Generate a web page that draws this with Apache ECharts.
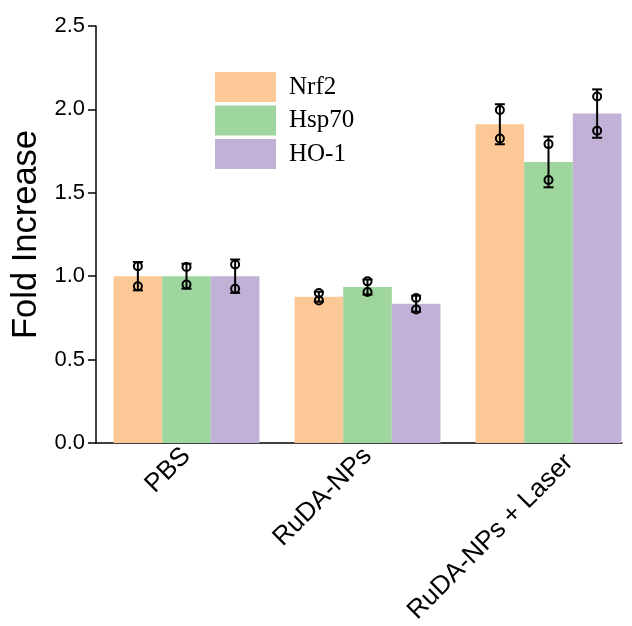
<!DOCTYPE html>
<html>
<head>
<meta charset="utf-8">
<script src="https://cdn.jsdelivr.net/npm/echarts@6/dist/echarts.min.js"></script>
<style>html,body{margin:0;padding:0;background:#fff}#c{width:632px;height:626px}</style>
</head>
<body>
<div id="c"></div>
<script>
var categories = ['PBS', 'RuDA-NPs', 'RuDA-NPs + Laser'];
var seriesNames = ['Nrf2', 'Hsp70', 'HO-1'];
var nrf2Mean = [1.0, 0.877, 1.911];
var hsp70Mean = [1.0, 0.935, 1.685];
var ho1Mean = [1.0, 0.835, 1.975];
var nrf2Err = [0.085, 0.03, 0.12];
var hsp70Err = [0.075, 0.045, 0.152];
var ho1Err = [0.10, 0.048, 0.145];
var nrf2Points = [[1.06, 0.94], [0.899, 0.855], [1.996, 1.826]];
var hsp70Points = [[1.055, 0.95], [0.969, 0.905], [1.792, 1.577]];
var ho1Points = [[1.07, 0.925], [0.869, 0.801], [2.077, 1.872]];
var yTicks = [0, 0.5, 1.0, 1.5, 2.0, 2.5];
var colors = ['#FCC896', '#9FD69D', '#C1B1D6'];

var means = [nrf2Mean, hsp70Mean, ho1Mean];
var errs = [nrf2Err, hsp70Err, ho1Err];
var pts = [nrf2Points, hsp70Points, ho1Points];
var CAT_GAP = 0.194;

function makeRender(k) {
  return function (params, api) {
    var idx = api.value(0), m = api.value(1), e = api.value(2), p1 = api.value(3), p2 = api.value(4);
    var band = api.size([1, 0])[0];
    var bw = band * (1 - CAT_GAP) / 3;
    var x = api.coord([idx, m])[0] + (k - 1) * bw;
    var yTop = api.coord([idx, m + e])[1];
    var yBot = api.coord([idx, m - e])[1];
    var y1 = api.coord([idx, p1])[1];
    var y2 = api.coord([idx, p2])[1];
    var st = {stroke: '#000', lineWidth: 2, fill: null};
    var cw = 5;
    return {
      type: 'group',
      children: [
        {type: 'line', shape: {x1: x, y1: yTop, x2: x, y2: yBot}, style: st},
        {type: 'line', shape: {x1: x - cw, y1: yTop, x2: x + cw, y2: yTop}, style: st},
        {type: 'line', shape: {x1: x - cw, y1: yBot, x2: x + cw, y2: yBot}, style: st},
        {type: 'circle', shape: {cx: x, cy: y1, r: 4}, style: {stroke: '#000', lineWidth: 2, fill: 'none'}},
        {type: 'circle', shape: {cx: x, cy: y2, r: 4}, style: {stroke: '#000', lineWidth: 2, fill: 'none'}}
      ]
    };
  };
}

var series = [];
for (var k = 0; k < 3; k++) {
  series.push({
    name: seriesNames[k], type: 'bar', data: means[k],
    barGap: '0%', barCategoryGap: (CAT_GAP * 100) + '%',
    itemStyle: {color: colors[k]}, emphasis: {disabled: true}
  });
}
for (var k = 0; k < 3; k++) {
  var d = [];
  for (var i = 0; i < categories.length; i++) {
    d.push([i, means[k][i], errs[k][i], pts[k][i][0], pts[k][i][1]]);
  }
  series.push({
    name: 'err' + k, type: 'custom', renderItem: makeRender(k), data: d,
    z: 10, encode: {x: 0, y: [1]}, silent: true
  });
}

var xData = categories.map(function (c, i) {
  if (i === 2) return {value: c, textStyle: {padding: [6, -10, 0, 0], verticalAlign: 'top'}};
  return c;
});

var chart = echarts.init(document.getElementById('c'), null, {renderer: 'canvas'});
chart.setOption({
  animation: false,
  backgroundColor: '#fff',
  legend: {
    data: seriesNames, orient: 'vertical', left: 210, top: 67,
    icon: 'rect', itemWidth: 61, itemHeight: 30, itemGap: 3.5,
    textStyle: {fontFamily: 'Liberation Serif', fontSize: 25, color: '#000', padding: [0, 0, 0, 8]}
  },
  grid: [
    {left: 96, width: 543, top: 26, bottom: 183, outerBoundsMode: 'none', containLabel: false},
    {left: 96, right: 10, top: 26, bottom: 183, outerBoundsMode: 'none', containLabel: false}
  ],
  xAxis: [
    {
      type: 'category', data: xData, gridIndex: 0,
      axisLine: {show: false}, axisTick: {show: false},
      axisLabel: {rotate: 45, fontFamily: 'Liberation Sans', fontSize: 26, color: '#000', margin: 9, interval: 0}
    },
    {
      type: 'value', gridIndex: 1, min: 0, max: 1,
      axisLine: {show: true, onZero: false, lineStyle: {color: '#000', width: 1.5}},
      axisTick: {show: false}, axisLabel: {show: false}, splitLine: {show: false}
    }
  ],
  yAxis: [
    {
      type: 'value', gridIndex: 0, min: 0, max: 2.5, interval: 0.5,
      name: 'Fold Increase', nameLocation: 'middle', nameGap: 46,
      nameTextStyle: {fontFamily: 'Liberation Sans', fontSize: 34.5, color: '#000'},
      axisLine: {show: true, lineStyle: {color: '#000', width: 1.5}},
      axisTick: {show: true, length: 8, lineStyle: {color: '#000', width: 1.5}},
      axisLabel: {fontFamily: 'Liberation Sans', fontSize: 22, color: '#000', margin: 11,
        formatter: function (v) { return v.toFixed(1); }},
      splitLine: {show: false}
    },
    {type: 'value', gridIndex: 1, min: 0, max: 1, show: false}
  ],
  series: series
});
</script>
</body>
</html>
